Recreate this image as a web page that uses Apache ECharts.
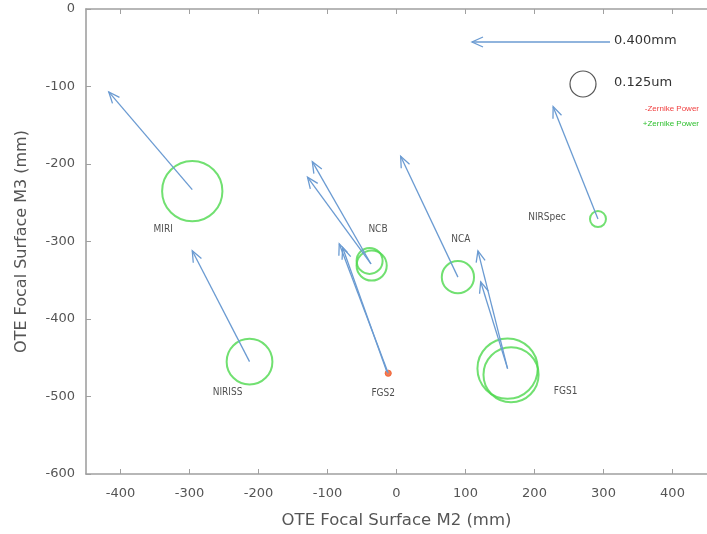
<!DOCTYPE html>
<html>
<head>
<meta charset="utf-8">
<script src="https://cdn.jsdelivr.net/npm/echarts@6/dist/echarts.min.js"></script>
<style>html,body{margin:0;padding:0;background:#fff}#c{width:707px;height:534px}</style>
</head>
<body>
<div id="c"></div>
<script>
// ---- data ----
const instruments = ['MIRI', 'NIRISS', 'NCB', 'FGS2', 'NCA', 'FGS1', 'NIRSpec'];
const instX = [-296, -213, -37, -12, 89, 161, 292];
const instY = [-233, -455, -329, -470, -346, -464, -271];

// arrows: start (x,y) -> tip (x,y), axis units (0.400mm = 200 units)
const arrowFromX = [-296, -213, -37, -37, -12, -14, 89, 161, 161, 292];
const arrowFromY = [-233, -455, -329, -329, -470, -468, -346, -464, -464, -271];
const arrowToX   = [-417, -296, -122, -129, -83, -78, 6, 118, 122, 227];
const arrowToY   = [-107, -312, -197, -217, -303, -308, -190, -312, -352, -126];

// Zernike power circles (um, signed)
const circleX = [-296, -213, -36, -39, -12, 89, 161, 166, 292];
const circleY = [-235, -455, -331, -325, -470, -346, -464, -472, -271];
const circlePower = [0.29, 0.22, 0.145, 0.125, -0.03, 0.155, 0.29, 0.265, 0.077];

const xTicks = [-400, -300, -200, -100, 0, 100, 200, 300, 400];

// ---- styles / layout (not data) ----
const labelOffsets = [[-29, 40], [-22, 31], [7, -35], [-5, 20], [3, -38], [58, 23], [-51, -2]];
const arrowColor = '#6b9bd2';
const pxPerUm = 13 / 0.125;
const FONT = 'DejaVu Sans';

const chart = echarts.init(document.getElementById('c'));

function renderArrow(params, api) {
  const p0 = api.coord([api.value(0), api.value(1)]);
  const p1 = api.coord([api.value(2), api.value(3)]);
  const ang = Math.atan2(p1[1] - p0[1], p1[0] - p0[0]);
  const L = 12, a = Math.PI / 8;
  const h1 = [p1[0] - L * Math.cos(ang - a), p1[1] - L * Math.sin(ang - a)];
  const h2 = [p1[0] - L * Math.cos(ang + a), p1[1] - L * Math.sin(ang + a)];
  return {
    type: 'group',
    children: [
      { type: 'line', shape: { x1: p0[0], y1: p0[1], x2: p1[0], y2: p1[1] }, style: { stroke: arrowColor, lineWidth: 1.3 } },
      { type: 'polyline', shape: { points: [h1, p1, h2] }, style: { stroke: arrowColor, fill: null, lineWidth: 1.3 } }
    ]
  };
}

const axisLineStyle = { color: '#a0a0a0', width: 1.6 };
const gridOpt = { left: 86, right: -4, top: 9, bottom: 58 };

chart.setOption({
  animation: false,
  backgroundColor: '#fff',
  grid: gridOpt,
  xAxis: [{
    type: 'value', min: -450, max: 450, position: 'bottom',
    name: 'OTE Focal Surface M2 (mm)', nameLocation: 'middle', nameGap: 38,
    nameTextStyle: { color: '#555', fontSize: 16.5, fontFamily: FONT },
    axisLine: { show: true, onZero: false, lineStyle: axisLineStyle },
    axisTick: { show: true, inside: true, length: 5, customValues: xTicks, lineStyle: { color: '#a0a0a0' } },
    axisLabel: { customValues: xTicks, color: '#555', fontSize: 13, margin: 13, fontFamily: FONT },
    splitLine: { show: false }
  }, {
    type: 'value', min: -450, max: 450, position: 'top',
    axisLine: { show: true, onZero: false, lineStyle: axisLineStyle },
    axisTick: { show: true, inside: true, length: 5, customValues: xTicks, lineStyle: { color: '#a0a0a0' } },
    axisLabel: { show: false },
    splitLine: { show: false }
  }],
  yAxis: [{
    type: 'value', min: -600, max: 0, interval: 100,
    name: 'OTE Focal Surface M3 (mm)', nameLocation: 'middle', nameGap: 56, nameRotate: 90,
    nameTextStyle: { color: '#555', fontSize: 16, fontFamily: FONT },
    axisLine: { show: true, onZero: false, lineStyle: axisLineStyle },
    axisTick: { show: true, inside: true, length: 5, lineStyle: { color: '#a0a0a0' } },
    axisLabel: { color: '#555', fontSize: 13, margin: 11, fontFamily: FONT },
    splitLine: { show: false }
  }],
  series: [
    {
      type: 'scatter', name: 'power',
      data: circleX.map((x, i) => ({
        value: [x, circleY[i], circlePower[i]],
        itemStyle: circlePower[i] < 0
          ? { color: '#f05a28', borderColor: '#f05a28', borderWidth: 1 }
          : { color: 'rgba(0,0,0,0)', borderColor: '#4ed84e', borderWidth: 2 }
      })),
      symbol: 'circle',
      symbolSize: v => 2 * Math.abs(v[2]) * pxPerUm,
      z: 2
    },
    {
      type: 'custom', name: 'arrows',
      renderItem: renderArrow,
      data: arrowFromX.map((x, i) => [x, arrowFromY[i], arrowToX[i], arrowToY[i]]),
      encode: { x: [0, 2], y: [1, 3] },
      z: 3
    },
    {
      type: 'scatter', name: 'labels',
      symbolSize: 0,
      data: instruments.map((n, i) => ({
        name: n, value: [instX[i], instY[i]],
        label: { show: true, formatter: n, position: 'inside', offset: labelOffsets[i] }
      })),
      label: { color: '#222', fontSize: 10, fontFamily: '"Liberation Sans Narrow", "DejaVu Sans Condensed", sans-serif' },
      z: 4
    }
  ],
  graphic: [
    { type: 'line', shape: { x1: 610, y1: 42, x2: 472, y2: 42 }, style: { stroke: arrowColor, lineWidth: 1.3 } },
    { type: 'polyline', shape: { points: [[483, 37], [472, 42], [483, 47]] }, style: { stroke: arrowColor, fill: null, lineWidth: 1.3 } },
    { type: 'text', left: 614, top: 34, style: { text: '0.400mm', fill: '#333', fontSize: 13, fontFamily: FONT } },
    { type: 'circle', shape: { cx: 583, cy: 84, r: 13 }, style: { stroke: '#555', fill: null, lineWidth: 1.2 } },
    { type: 'text', left: 614, top: 76, style: { text: '0.125um', fill: '#333', fontSize: 13, fontFamily: FONT } },
    { type: 'text', right: 8, top: 105, style: { text: '-Zernike Power', fill: '#f04040', fontSize: 8, fontFamily: '"Liberation Sans Narrow", sans-serif' } },
    { type: 'text', right: 8, top: 120, style: { text: '+Zernike Power', fill: '#30c030', fontSize: 8, fontFamily: '"Liberation Sans Narrow", sans-serif' } }
  ]
});
</script>
</body>
</html>
